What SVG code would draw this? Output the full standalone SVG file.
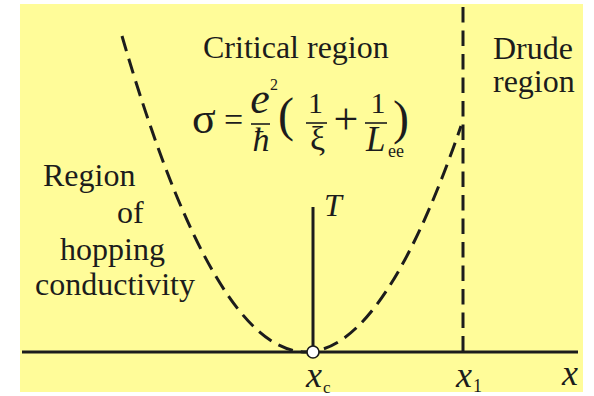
<svg xmlns="http://www.w3.org/2000/svg" width="594" height="396" viewBox="0 0 594 396" font-family="'Liberation Serif', 'DejaVu Serif', serif">
<style>
text{font-family:'Liberation Serif','DejaVu Serif',serif;fill:#1c1c1c}
.lbl{font-size:32px}
.it{font-style:italic}
.ln{stroke:#1c1c1c;stroke-width:3;fill:none}
.dash{stroke:#1c1c1c;stroke-width:3;fill:none;stroke-dasharray:15.5 8}
.bar{stroke:#1c1c1c;stroke-width:1.6}
</style>
<rect x="20" y="4" width="563" height="388" fill="#FFFC99"/>
<g id="connectors">
<line class="ln" x1="22" y1="352" x2="578" y2="352"/>
<line class="ln" x1="313" y1="207" x2="313" y2="352"/>
<path class="dash" d="M122,36 Q291.5,619 461,126" stroke-dasharray="14 8"/>
<line class="dash" x1="463" y1="7" x2="463" y2="352"/>
</g>
<g id="critical-region">
<text class="lbl" x="203" y="58">Critical region</text>
</g>
<g id="drude-region">
<text class="lbl" x="493" y="59">Drude</text>
<text class="lbl" x="493" y="92">region</text>
</g>
<g id="hopping-region">
<text class="lbl" x="43" y="186">Region</text>
<text class="lbl" x="117" y="223">of</text>
<text class="lbl" x="60" y="260">hopping</text>
<text class="lbl" x="35" y="295">conductivity</text>
</g>
<g id="formula">
<text x="192" y="133" font-size="44">σ</text>
<text x="224" y="131" font-size="34">=</text>
<text class="it" x="260" y="113" font-size="44" text-anchor="middle">e</text>
<text x="270" y="90" font-size="16">2</text>
<line class="bar" x1="251" y1="124" x2="270" y2="124"/>
<text class="it" x="261" y="151" font-size="34" text-anchor="middle">ħ</text>
<text x="278" y="131" font-size="48">(</text>
<text x="315.5" y="113" font-size="30" text-anchor="middle">1</text>
<line class="bar" x1="306" y1="123" x2="327" y2="123"/>
<text x="317.5" y="150" font-size="34" text-anchor="middle">ξ</text>
<text x="346" y="134" font-size="44" text-anchor="middle">+</text>
<text x="378" y="113" font-size="30" text-anchor="middle">1</text>
<line class="bar" x1="365" y1="123" x2="387" y2="123"/>
<text class="it" x="366" y="151" font-size="35">L</text>
<text x="388" y="157" font-size="18">ee</text>
<text x="393" y="134" font-size="48">)</text>
</g>
<g id="T-axis">
<text class="it" x="324" y="216" font-size="32">T</text>
</g>
<g id="xc">
<circle cx="313" cy="352" r="6" fill="#fff" stroke="#1c1c1c" stroke-width="1.6"/>
<text class="it" x="306" y="387" font-size="36">x</text>
<text x="323" y="393" font-size="17">c</text>
</g>
<g id="x1">
<text class="it" x="456" y="387" font-size="36">x</text>
<text x="473" y="392" font-size="18">1</text>
</g>
<g id="x-axis-label">
<text class="it" x="562" y="385" font-size="36">x</text>
</g>
</svg>
